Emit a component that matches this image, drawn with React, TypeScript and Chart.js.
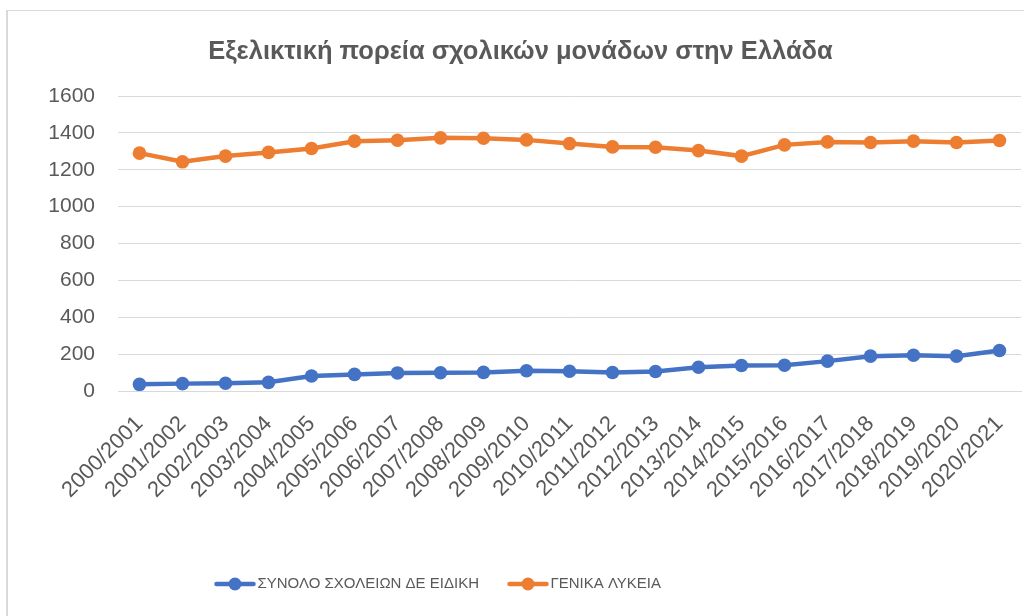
import React, { useEffect, useRef } from "react";
import { Chart, registerables } from "chart.js";

Chart.register(...registerables);

const chartTitle = "Εξελικτική πορεία σχολικών μονάδων στην Ελλάδα";
const categories = [
  "2000/2001", "2001/2002", "2002/2003", "2003/2004", "2004/2005", "2005/2006", "2006/2007",
  "2007/2008", "2008/2009", "2009/2010", "2010/2011", "2011/2012", "2012/2013", "2013/2014",
  "2014/2015", "2015/2016", "2016/2017", "2017/2018", "2018/2019", "2019/2020", "2020/2021",
];
const seriesNames = ["ΣΥΝΟΛΟ ΣΧΟΛΕΙΩΝ ΔΕ ΕΙΔΙΚΗ", "ΓΕΝΙΚΑ ΛΥΚΕΙΑ"];
const specialSchools = [36, 40, 42, 47, 81, 90, 98, 99, 101, 110, 107, 100, 106, 129, 138, 140, 162, 189, 194, 189, 220];
const generalLyceums = [1290, 1243, 1274, 1294, 1315, 1355, 1360, 1373, 1371, 1362, 1342, 1324, 1322, 1304, 1274, 1335, 1351, 1348, 1355, 1348, 1359];
const yMin = 0;
const yMax = 1600;
const yStep = 200;

const seriesColors = ["#4472C4", "#ED7D31"];
const textColor = "#595959";
const gridColor = "#d9d9d9";
const FONT = "'Liberation Sans', Arial, sans-serif";

function makeMarker(color: string): HTMLCanvasElement {
  const c = document.createElement("canvas");
  c.width = 42;
  c.height = 14;
  const g = c.getContext("2d")!;
  g.strokeStyle = color;
  g.lineWidth = 4.5;
  g.lineCap = "round";
  g.beginPath();
  g.moveTo(2.5, 7);
  g.lineTo(39.5, 7);
  g.stroke();
  g.fillStyle = color;
  g.beginPath();
  g.arc(21, 7, 6.5, 0, Math.PI * 2);
  g.fill();
  return c;
}

const shiftBoxes = {
  id: "shiftBoxes",
  afterLayout(chart: any) {
    if (chart.legend) {
      chart.legend.left -= 70;
      chart.legend.right -= 70;
    }
    if (chart.titleBlock) {
      chart.titleBlock.left += 10;
      chart.titleBlock.right += 10;
    }
  },
};

export default function App() {
  const ref = useRef<HTMLCanvasElement>(null);

  useEffect(() => {
    document.body.style.margin = "0";
    const markers = seriesColors.map(makeMarker);
    const chart = new Chart(ref.current!, {
      type: "line",
      plugins: [shiftBoxes],
      data: {
        labels: categories,
        datasets: [
          {
            label: seriesNames[0],
            data: specialSchools,
            borderColor: seriesColors[0],
            backgroundColor: seriesColors[0],
            pointBackgroundColor: seriesColors[0],
            borderWidth: 4.5,
            pointRadius: 6.8,
            pointBorderWidth: 0,
            tension: 0,
          },
          {
            label: seriesNames[1],
            data: generalLyceums,
            borderColor: seriesColors[1],
            backgroundColor: seriesColors[1],
            pointBackgroundColor: seriesColors[1],
            borderWidth: 4.5,
            pointRadius: 6.8,
            pointBorderWidth: 0,
            tension: 0,
          },
        ],
      },
      options: {
        animation: false,
        responsive: false,
        layout: { autoPadding: false, padding: { left: 0, right: 3, top: 0, bottom: 14.5 } },
        plugins: {
          title: {
            display: true,
            text: chartTitle,
            color: textColor,
            font: { family: FONT, size: 25.5, weight: "bold" },
            padding: { top: 37, bottom: 28.4 },
          },
          legend: {
            position: "bottom",
            labels: {
              usePointStyle: true,
              pointStyleWidth: 30,
              padding: 34,
              color: textColor,
              font: { family: FONT, size: 15 },
              generateLabels: (ch: any) => {
                const items = (Chart.defaults as any).plugins.legend.labels.generateLabels(ch);
                items.forEach((it: any, i: number) => {
                  it.pointStyle = markers[i];
                });
                return items;
              },
            },
          },
          tooltip: { enabled: false },
        },
        scales: {
          x: {
            offset: true,
            grid: { display: false, drawTicks: false },
            border: { color: gridColor, width: 1 },
            ticks: {
              color: textColor,
              font: { family: FONT, size: 22 },
              maxRotation: 45,
              minRotation: 45,
              padding: 20,
              autoSkip: false,
            },
            afterFit: (s: any) => {
              s.height = 151.5;
              s.paddingLeft = 0;
              s.paddingRight = 0;
            },
          },
          y: {
            min: yMin,
            max: yMax,
            ticks: {
              stepSize: yStep,
              color: textColor,
              font: { family: FONT, size: 21 },
              padding: 23,
              callback: (v: any) => String(v),
            },
            grid: { color: gridColor, drawTicks: false, lineWidth: 1 },
            border: { display: false },
            afterFit: (s: any) => {
              s.width = 118;
            },
          },
        },
      },
    });
    return () => chart.destroy();
  }, []);

  return (
    <div style={{ position: "fixed", left: 0, top: 0, width: 1024, height: 616, overflow: "hidden", background: "#fff" }}>
      <div
        style={{
          position: "absolute",
          left: 6,
          top: 10,
          width: 1100,
          height: 700,
          borderLeft: "2px solid #d9d9d9",
          borderTop: "1px solid #d9d9d9",
        }}
      />
      <canvas ref={ref} width={1024} height={616} style={{ position: "absolute", left: 0, top: 0 }} />
    </div>
  );
}
